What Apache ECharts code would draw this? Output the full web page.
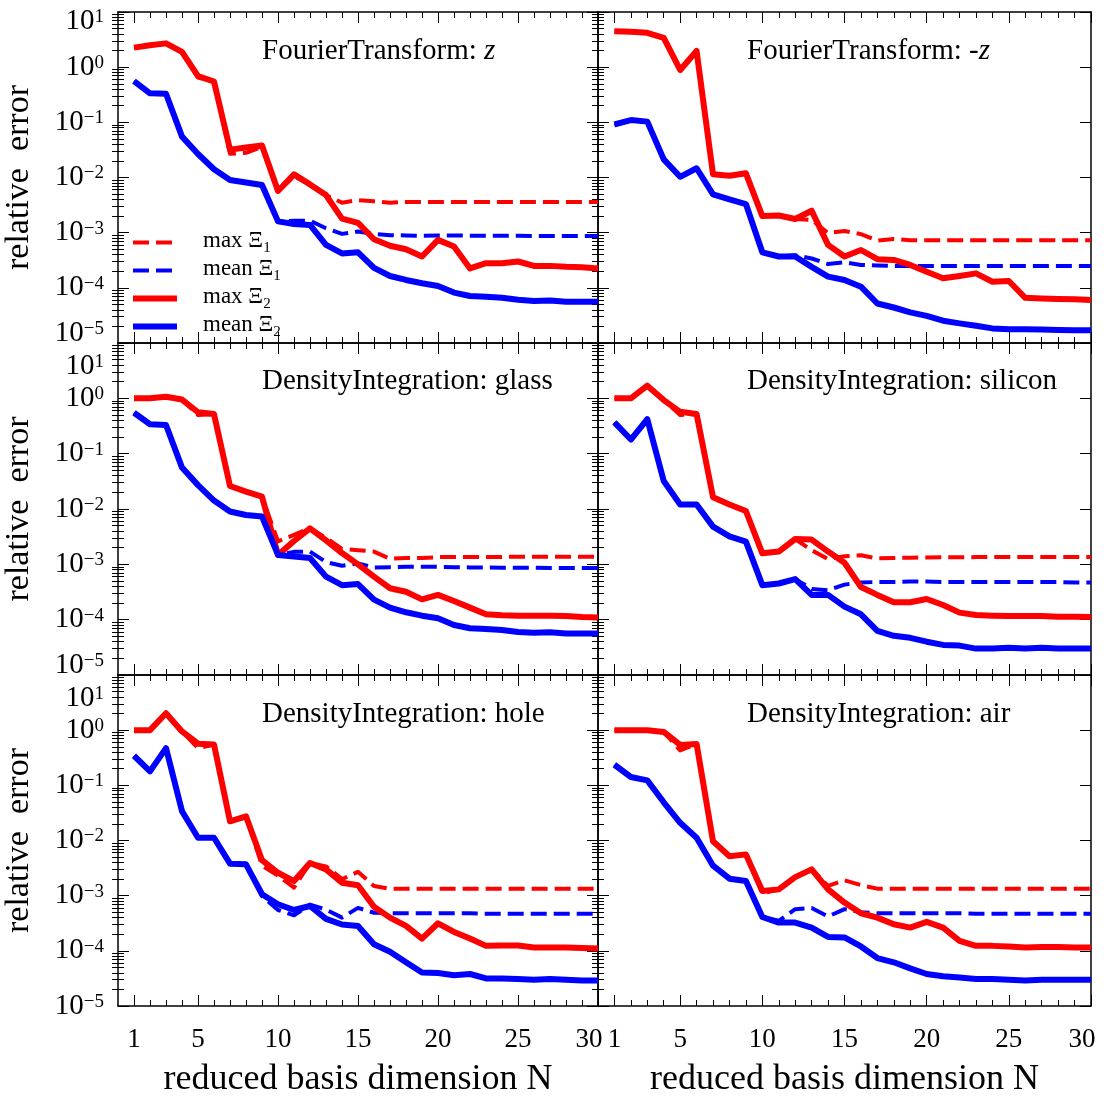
<!DOCTYPE html>
<html><head><meta charset="utf-8">
<script src="https://cdn.jsdelivr.net/npm/echarts@6/dist/echarts.min.js"></script>
<style>html,body{margin:0;padding:0;background:#fff}#c{width:1110px;height:1099px}</style>
</head><body><div id="c"></div>
<script>
// ---------------- data ----------------
const N = [1,2,3,4,5,6,7,8,9,10,11,12,13,14,15,16,17,18,19,20,21,22,23,24,25,26,27,28,29,30];
const xTickValues = [1,5,10,15,20,25,30];
const xMinorValues = [2,3,4,6,7,8,9,11,12,13,14,16,17,18,19,21,22,23,24,26,27,28,29];
const yTickValues = [1e-5,1e-4,1e-3,1e-2,1e-1,1,10];
const yMinorValues = [2e-5,3e-5,4e-5,5e-5,6e-5,7e-5,8e-5,9e-5,2e-4,3e-4,4e-4,5e-4,6e-4,7e-4,8e-4,9e-4,
  2e-3,3e-3,4e-3,5e-3,6e-3,7e-3,8e-3,9e-3,2e-2,3e-2,4e-2,5e-2,6e-2,7e-2,8e-2,9e-2,
  0.2,0.3,0.4,0.5,0.6,0.7,0.8,0.9,2,3,4,5,6,7,8,9];
const seriesNames = ['max Ξ1','mean Ξ1','max Ξ2','mean Ξ2'];
const panelTitles = ['FourierTransform: {i|z}','FourierTransform: -{i|z}','DensityIntegration: glass',
  'DensityIntegration: silicon','DensityIntegration: hole','DensityIntegration: air'];

// FourierTransform: z
const ftz_max1 = [2.26,2.5,2.7,1.9,0.65,0.55,0.027,0.028,0.036,0.0057,0.0105,0.0075,0.0048,0.0035,0.0039,0.0037,0.0035,0.0036,0.0036,0.0036,0.0036,0.0036,0.0036,0.0036,0.0036,0.0036,0.0036,0.0036,0.0036,0.0036];
const ftz_mean1 = [0.56,0.336,0.33,0.055,0.0267,0.0141,0.009,0.0081,0.0073,0.0016,0.00165,0.00165,0.0012,0.00095,0.00105,0.00095,0.0009,0.00089,0.00088,0.00089,0.00089,0.00088,0.00088,0.00088,0.00088,0.00087,0.00087,0.00087,0.00087,0.00087];
const ftz_max2 = [2.26,2.5,2.7,1.9,0.69,0.55,0.032,0.035,0.038,0.0057,0.0114,0.0075,0.0048,0.0018,0.0015,0.00076,0.00058,0.0005,0.00037,0.00074,0.00056,0.000225,0.00028,0.00028,0.0003,0.00025,0.00025,0.00024,0.000235,0.000225];
const ftz_mean2 = [0.56,0.336,0.33,0.055,0.0267,0.0141,0.009,0.0081,0.0073,0.0016,0.00144,0.00138,0.0006,0.00042,0.00044,0.00023,0.000164,0.000139,0.000121,0.000108,0.000082,0.000071,0.000069,0.000066,0.000061,0.000058,0.000059,0.000056,0.000056,0.000056];
// FourierTransform: -z
const ftmz_max1 = [4.5,4.4,4.2,3.4,0.89,1.96,0.0114,0.0108,0.0119,0.002,0.00205,0.00177,0.0017,0.00099,0.00107,0.00094,0.00072,0.00077,0.00073,0.00073,0.00073,0.00073,0.00073,0.00073,0.00073,0.00073,0.00073,0.00073,0.00073,0.00073];
const ftmz_mean1 = [0.088,0.108,0.103,0.0213,0.0103,0.0147,0.00495,0.004,0.0033,0.00044,0.00037,0.00039,0.00034,0.00027,0.00029,0.00026,0.000255,0.00025,0.00025,0.00025,0.00025,0.00025,0.00025,0.00025,0.00025,0.00025,0.00025,0.00025,0.00025,0.00025];
const ftmz_max2 = [4.5,4.4,4.2,3.4,0.89,1.96,0.0114,0.0108,0.0119,0.002,0.00205,0.00177,0.0025,0.0006,0.00037,0.000485,0.00033,0.00032,0.00026,0.000196,0.000149,0.000164,0.000183,0.000129,0.000133,0.000066,0.000064,0.000063,0.000062,0.00006];
const ftmz_mean2 = [0.092,0.11,0.103,0.0213,0.0103,0.0147,0.00495,0.004,0.0033,0.00044,0.00037,0.00037,0.00024,0.00016,0.000139,0.000105,0.000052,0.000044,0.000036,0.000031,0.0000254,0.0000227,0.0000206,0.0000184,0.0000177,0.0000177,0.0000175,0.0000172,0.000017,0.000017];
// DensityIntegration: glass
const glass_max1 = [1.0,1.0,1.07,0.95,0.5,0.52,0.026,0.0206,0.0167,0.0026,0.0034,0.0045,0.003,0.0019,0.0018,0.0017,0.00126,0.0013,0.0013,0.00135,0.00135,0.00135,0.00136,0.00136,0.00137,0.00137,0.00137,0.00137,0.00137,0.00137];
const glass_mean1 = [0.55,0.34,0.33,0.056,0.027,0.0142,0.009,0.0078,0.0073,0.00148,0.00168,0.0017,0.0011,0.00094,0.00104,0.00088,0.00089,0.0009,0.0009,0.0009,0.00089,0.00088,0.00088,0.00087,0.00087,0.00087,0.00086,0.00086,0.00086,0.00086];
const glass_max2 = [1.0,1.0,1.07,0.95,0.56,0.52,0.026,0.0206,0.0167,0.00148,0.00264,0.00448,0.0027,0.0016,0.001,0.0006,0.00037,0.00032,0.000233,0.00028,0.000217,0.000165,0.000125,0.00012,0.000118,0.000118,0.000118,0.000116,0.000112,0.00011];
const glass_mean2 = [0.55,0.34,0.33,0.056,0.027,0.0142,0.009,0.0078,0.0073,0.00148,0.00138,0.0013,0.0006,0.00042,0.00044,0.00023,0.000165,0.000136,0.000118,0.000106,0.00008,0.00007,0.000068,0.000065,0.00006,0.000058,0.000059,0.000056,0.000056,0.000056];
// DensityIntegration: silicon
const si_max1 = [1.0,1.0,1.69,0.93,0.5,0.52,0.0163,0.0121,0.0092,0.00158,0.0017,0.00287,0.0018,0.00125,0.0014,0.00146,0.00128,0.0013,0.00132,0.00133,0.00134,0.00134,0.00135,0.00135,0.00135,0.00135,0.00135,0.00135,0.00135,0.00135];
const si_mean1 = [0.368,0.18,0.42,0.032,0.0121,0.0121,0.0048,0.0032,0.00257,0.00042,0.00045,0.00054,0.00036,0.00034,0.00043,0.00047,0.00048,0.00048,0.00049,0.00049,0.00048,0.00048,0.00048,0.00048,0.00048,0.00048,0.00048,0.00048,0.00047,0.00047];
const si_max2 = [1.0,1.0,1.69,0.93,0.57,0.52,0.0163,0.0121,0.0092,0.00158,0.0017,0.00287,0.0028,0.0017,0.00107,0.00039,0.00028,0.000206,0.000206,0.000236,0.000184,0.000134,0.000121,0.000118,0.000116,0.000116,0.000116,0.000113,0.000113,0.000112];
const si_mean2 = [0.368,0.18,0.42,0.032,0.0121,0.0121,0.0048,0.0032,0.00257,0.00042,0.00045,0.00054,0.00028,0.00028,0.000172,0.000125,0.000063,0.000051,0.000047,0.00004,0.000035,0.000034,0.00003,0.00003,0.000031,0.00003,0.000031,0.00003,0.00003,0.00003];
// DensityIntegration: hole
const hole_max1 = [1.0,1.0,2.03,0.95,0.47,0.55,0.0223,0.0275,0.0035,0.0023,0.0014,0.0039,0.0034,0.002,0.0027,0.0015,0.00133,0.00133,0.00133,0.00133,0.00133,0.00133,0.00133,0.00133,0.00133,0.00133,0.00133,0.00133,0.00133,0.00133];
const hole_mean1 = [0.344,0.179,0.473,0.034,0.0112,0.0112,0.0038,0.0037,0.00098,0.00055,0.00044,0.00069,0.00056,0.0004,0.0006,0.00049,0.00048,0.00048,0.00048,0.00048,0.00048,0.00048,0.00047,0.00047,0.00047,0.00047,0.00047,0.00047,0.00047,0.00047];
const hole_max2 = [1.0,1.0,2.03,0.95,0.57,0.55,0.0223,0.0275,0.0044,0.0026,0.00184,0.0039,0.003,0.00172,0.00154,0.00063,0.0004,0.000283,0.000167,0.000316,0.00022,0.000167,0.000123,0.000125,0.000125,0.000115,0.000115,0.000115,0.000112,0.00011];
const hole_mean2 = [0.344,0.179,0.473,0.034,0.0112,0.0112,0.0038,0.0037,0.00106,0.0007,0.00055,0.00065,0.00038,0.0003,0.000283,0.000132,0.000096,0.000062,0.0000406,0.0000395,0.000036,0.000038,0.0000316,0.0000316,0.000031,0.00003,0.000031,0.00003,0.000029,0.000029];
// DensityIntegration: air
const air_max1 = [1.0,1.0,1.0,0.93,0.43,0.56,0.0097,0.0052,0.0056,0.0011,0.0013,0.00217,0.003,0.0015,0.0019,0.00155,0.00134,0.00134,0.00134,0.00134,0.00134,0.00134,0.00134,0.00134,0.00134,0.00134,0.00134,0.00134,0.00134,0.00134];
const air_mean1 = [0.236,0.1415,0.123,0.0493,0.0209,0.0112,0.0035,0.00203,0.00184,0.00041,0.00035,0.00057,0.0006,0.00042,0.00057,0.0005,0.00048,0.00048,0.00048,0.00048,0.00048,0.00048,0.00047,0.00047,0.00047,0.00047,0.00047,0.00047,0.00047,0.00047];
const air_max2 = [1.0,1.0,1.0,0.93,0.54,0.56,0.0097,0.0052,0.0056,0.00121,0.0013,0.00217,0.003,0.0013,0.00075,0.00048,0.0004,0.000303,0.000264,0.000335,0.000264,0.000152,0.000123,0.000123,0.00012,0.000115,0.000117,0.000117,0.000115,0.000115];
const air_mean2 = [0.236,0.1415,0.123,0.0493,0.0209,0.0112,0.0035,0.00203,0.00184,0.00041,0.000325,0.000325,0.000264,0.000179,0.000175,0.00012,0.000074,0.000062,0.000048,0.000038,0.0000345,0.000033,0.000031,0.000031,0.00003,0.000029,0.00003,0.00003,0.00003,0.00003];

const panelData = [
  [ftz_max1, ftz_mean1, ftz_max2, ftz_mean2],
  [ftmz_max1, ftmz_mean1, ftmz_max2, ftmz_mean2],
  [glass_max1, glass_mean1, glass_max2, glass_mean2],
  [si_max1, si_mean1, si_max2, si_mean2],
  [hole_max1, hole_mean1, hole_max2, hole_mean2],
  [air_max1, air_mean1, air_max2, air_mean2]
];

// ---------------- layout / style ----------------
const FONT = 'Liberation Serif';
const RED = '#ff0000', BLUE = '#0000ff';
const colLeft = [118, 598], colWidth = [480, 493];
const rowTop = [12, 343, 675], rowHeight = [331, 332, 332];
const titleLeft = [262, 747], titleTop = [37, 367, 700];

const grids = [], xAxes = [], yAxes = [], series = [], titles = [];
const frameLine = {show: true, onZero: false, lineStyle: {color: '#000', width: 1.5}};
const tickMajor = {show: true, inside: true, length: 11, lineStyle: {color: '#000', width: 1}};
const tickMinor = {show: true, inside: true, length: 6, lineStyle: {color: '#000', width: 1}};

const yRich = {
  b: {fontFamily: FONT, fontSize: 29, color: '#000', verticalAlign: 'bottom'},
  e: {fontFamily: FONT, fontSize: 19, color: '#000', verticalAlign: 'bottom', padding: [0, 0, 9, 0]},
  bD1: {fontFamily: FONT, fontSize: 29, color: '#000', verticalAlign: 'bottom', padding: [18, 0, 0, 0]},
  eD1: {fontFamily: FONT, fontSize: 19, color: '#000', verticalAlign: 'bottom', padding: [0, 0, 9, 0]},
  bD2: {fontFamily: FONT, fontSize: 29, color: '#000', verticalAlign: 'bottom', padding: [46, 0, 0, 0]},
  eD2: {fontFamily: FONT, fontSize: 19, color: '#000', verticalAlign: 'bottom', padding: [0, 0, 9, 0]},
  bU: {fontFamily: FONT, fontSize: 29, color: '#000', verticalAlign: 'bottom', padding: [0, 0, 20, 0]},
  eU: {fontFamily: FONT, fontSize: 19, color: '#000', verticalAlign: 'bottom', padding: [0, 0, 29, 0]}
};

const lineStyles = [
  {color: RED, width: 4, type: [16, 7]},
  {color: BLUE, width: 4, type: [16, 7]},
  {color: RED, width: 6, type: 'solid'},
  {color: BLUE, width: 6, type: 'solid'}
];

for (let g = 0; g < 6; g++) {
  const row = Math.floor(g / 2), col = g % 2;
  grids.push({left: colLeft[col], top: rowTop[row], width: colWidth[col], height: rowHeight[row], containLabel: false});
  const xb = {type: 'value', gridIndex: g, min: 0, max: 30, splitLine: {show: false}, silent: true};
  const bottomRow = row === 2;
  const xi = xAxes.length;
  xAxes.push(Object.assign({}, xb, {
    position: 'bottom', axisLine: frameLine, axisTick: Object.assign({customValues: xTickValues}, tickMajor),
    axisLabel: {show: bottomRow, customValues: xTickValues, margin: 20, fontFamily: FONT, fontSize: 27, color: '#000',
      formatter: v => v === 30 ? '{r|30}' : String(v),
      rich: {r: {fontFamily: FONT, fontSize: 27, color: '#000', padding: [0, 18, 0, 0]}}},
    name: bottomRow ? 'reduced basis dimension N' : '', nameLocation: 'middle', nameGap: 56,
    nameTextStyle: {fontFamily: FONT, fontSize: 36, color: '#000'}
  }));
  xAxes.push(Object.assign({}, xb, {position: 'bottom', axisLine: {show: false}, axisTick: Object.assign({customValues: xMinorValues}, tickMinor), axisLabel: {show: false}}));
  xAxes.push(Object.assign({}, xb, {position: 'top', axisLine: frameLine, axisTick: Object.assign({customValues: xTickValues}, tickMajor), axisLabel: {show: false}}));
  xAxes.push(Object.assign({}, xb, {position: 'top', axisLine: {show: false}, axisTick: Object.assign({customValues: xMinorValues}, tickMinor), axisLabel: {show: false}}));

  const yb = {type: 'log', logBase: 10, gridIndex: g, min: 1e-5, max: 10, splitLine: {show: false}, silent: true};
  const leftCol = col === 0;
  const yi = yAxes.length;
  yAxes.push(Object.assign({}, yb, {
    position: 'left', axisLine: frameLine, axisTick: Object.assign({customValues: yTickValues}, tickMajor),
    axisLabel: {show: leftCol, customValues: yTickValues, margin: 14, rich: yRich,
      formatter: v => {
        const ex = Math.round(Math.log10(v));
        const es = ex < 0 ? '\u2212' + (-ex) : String(ex);
        let s = '';
        if (ex === 1) s = row === 0 ? 'D1' : 'D2';
        if (ex === -5 && row < 2) s = 'U';
        return '{b' + s + '|10}{e' + s + '|' + es + '}';
      }},
    name: leftCol ? 'relative  error' : '', nameLocation: 'middle', nameGap: 82, nameRotate: 90,
    nameTextStyle: {fontFamily: FONT, fontSize: 34, color: '#000'}
  }));
  yAxes.push(Object.assign({}, yb, {position: 'left', axisLine: {show: false}, axisTick: Object.assign({customValues: yMinorValues}, tickMinor), axisLabel: {show: false}}));
  yAxes.push(Object.assign({}, yb, {position: 'right', axisLine: frameLine, axisTick: Object.assign({customValues: yTickValues}, tickMajor), axisLabel: {show: false}}));
  yAxes.push(Object.assign({}, yb, {position: 'right', axisLine: {show: false}, axisTick: Object.assign({customValues: yMinorValues}, tickMinor), axisLabel: {show: false}}));

  for (let s = 0; s < 4; s++) {
    series.push({
      type: 'line', name: seriesNames[s], xAxisIndex: xi, yAxisIndex: yi,
      data: N.map((n, k) => [n, panelData[g][s][k]]),
      symbol: 'none', showSymbol: false, animation: false, silent: true,
      color: lineStyles[s].color,
      itemStyle: {color: lineStyles[s].color, opacity: 0},
      lineStyle: Object.assign({join: 'round', cap: 'butt'}, lineStyles[s]),
      clip: true
    });
  }
  titles.push({
    text: panelTitles[g], left: titleLeft[col], top: titleTop[row], padding: 0,
    textStyle: {fontFamily: FONT, fontSize: 29, fontWeight: 'normal', color: '#000',
      rich: {i: {fontFamily: FONT, fontSize: 29, fontStyle: 'italic', color: '#000'}}}
  });
}

const chart = echarts.init(document.getElementById('c'), null, {renderer: 'canvas'});
chart.setOption({
  backgroundColor: '#fff',
  animation: false,
  title: titles,
  grid: grids,
  xAxis: xAxes,
  yAxis: yAxes,
  legend: {
    data: seriesNames, orient: 'vertical', left: 125, top: 224, itemWidth: 44, itemHeight: 14, itemGap: 1,
    selectedMode: false,
    itemStyle: {opacity: 0},
    lineStyle: {width: 'inherit', type: 'inherit', color: 'inherit'},
    formatter: n => '{a|' + n.slice(0, -1) + '}{s|' + n.slice(-1) + '}',
    textStyle: {fontFamily: FONT, fontSize: 23, color: '#000', padding: [0, 0, 0, 21],
      rich: {
        a: {fontFamily: FONT, fontSize: 23, color: '#000', verticalAlign: 'bottom', padding: [0, 0, 4, 0]},
        s: {fontFamily: FONT, fontSize: 15, color: '#000', verticalAlign: 'bottom'}
      }}
  },
  series: series
});
</script></body></html>
